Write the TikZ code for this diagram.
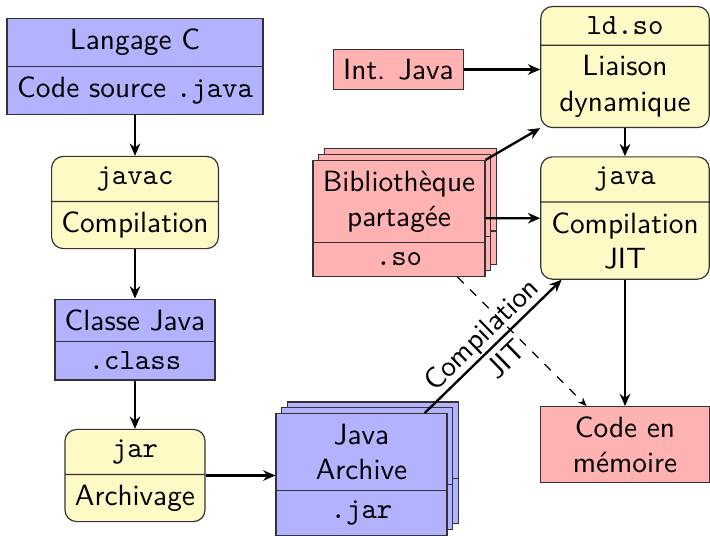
\documentclass[tikz,border=0pt]{standalone}
\usepackage{xcolor}
\usepackage{tikz}
\usetikzlibrary{shapes,arrows.meta,positioning,shadows}

\definecolor{cream}{RGB}{255,249,198}

\begin{document}
\begin{tikzpicture}[
    x=0.012cm, y=-0.012cm,
    font=\sffamily,
    >={Stealth[length=4.2pt, width=3.6pt, inset=1.4pt]},
    part/.style={rectangle split, rectangle split parts=2, draw=black!80, align=center},
    data/.style={part, fill=blue!30},
    tool/.style={part, fill=cream, rounded corners},
    lib/.style={part, fill=red!30},
    stack/.style={double copy shadow={shadow xshift=2pt, shadow yshift=2pt}},
    edge/.style={->, thick},
    dedge/.style={-{Stealth[length=3pt, width=2.4pt, inset=1pt]}, dashed}
]
    \useasboundingbox (0,0) rectangle (710,535);

    % compilation chain
    \node[data, minimum width=3.07cm] (source) at (135,66.5) {Langage C \nodepart{two} Code source \texttt{.java}};
    \node[tool, minimum width=1.98cm] (javac) at (135,202.5) {\texttt{javac} \nodepart{two} Compilation};
    \node[data, minimum width=1.92cm] (classe) at (135,339.5) {Classe Java \nodepart{two} \texttt{.class}};
    \node[tool, minimum width=1.68cm] (jar) at (135,475.5) {\texttt{jar} \nodepart{two} Archivage};
    \node[data, stack, minimum width=2.05cm] (archive) at (361.5,474.5) {Java\\Archive \nodepart{two} \texttt{.jar}};

    % execution
    \node[lib, stack, minimum width=2.06cm] (biblio) at (399,218.5) {Biblioth\`eque\\partag\'ee \nodepart{two} \texttt{.so}};
    \node[draw=black!80, fill=red!30] (intjava) at (398.5,69.5) {Int. Java};
    \node[tool, minimum width=2.02cm] (ldso) at (625,67) {\texttt{ld.so} \nodepart{two} Liaison\\dynamique};
    \node[tool, minimum width=2.02cm] (jvm) at (625,218) {\texttt{java} \nodepart{two} Compilation\\JIT};
    \node[draw=black!80, fill=red!30, align=center, minimum width=2.02cm] (memoire) at (625,444.5) {Code en\\m\'emoire};

    \draw[edge] (source) -- (javac);
    \draw[edge] (javac) -- (classe);
    \draw[edge] (classe) -- (jar);
    \draw[edge] (jar) -- (jar -| archive.west);
    \draw[edge] (archive) -- node[sloped, align=center] {Compilation\\JIT} (jvm);
    \draw[edge] (intjava) -- (intjava -| ldso.west);
    \draw[edge] (biblio.north east) -- (ldso.south west);
    \draw[edge] (biblio) -- (jvm);
    \draw[edge] (ldso) -- (jvm);
    \draw[edge] (jvm) -- (memoire);
    \draw[dedge] (biblio) -- (memoire);
\end{tikzpicture}
\end{document}
